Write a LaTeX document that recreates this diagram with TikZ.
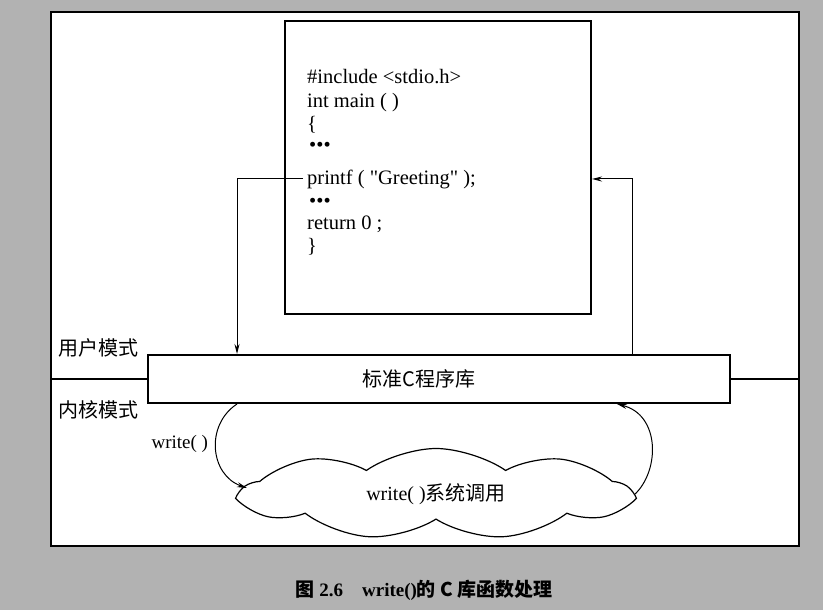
\documentclass[tikz,border=0pt]{standalone}
\usepackage{fontspec}
\setmainfont{Liberation Serif}
\newfontfamily\cjk{Noto Sans CJK SC}
\usetikzlibrary{calc, arrows.meta, shapes.symbols}
\definecolor{scangray}{HTML}{b2b2b2}

\begin{document}
\begin{tikzpicture}[x=1pt, y=-1pt,
            box/.style={draw, line width=2pt, fill=white, inner sep=0pt},
            codeline/.style={anchor=base west, inner sep=0pt, font=\fontsize{20.5}{22}\selectfont},
            modetext/.style={font=\cjk\fontsize{20}{22}\selectfont},
            vec/.style={line width=1pt, -{Stealth[length=10pt, width=5pt]}}
            ]
        % scanned page and frame
        \fill[scangray] (0,0) rectangle (823,610);
        \node[box, anchor=north west, minimum width=748pt, minimum height=534pt] (frame) at (50,11) {};

        % program text
        \node[box, anchor=north west, minimum width=306pt, minimum height=293pt] (code) at (284,20) {};
        \node[codeline] (inc)    at (307,84)  {\#include <stdio.h>};
        \node[codeline] (main)   at (307,108) {int main ( )};
        \node[codeline] (open)   at (307,131) {\{};
        \node[codeline] (dotsa)  at (309,151) {\textbullet\textbullet\textbullet};
        \node[codeline] (printf) at (307,184) {printf ( \textquotedbl Greeting\textquotedbl\ );};
        \node[codeline] (dotsb)  at (309,207) {\textbullet\textbullet\textbullet};
        \node[codeline] (ret)    at (307,229) {return 0 ;};
        \node[codeline] (close)  at (307,252) {\}};

        % library and modes
        \node[box, anchor=north west, minimum width=582pt, minimum height=48pt] (lib) at (147,354) {};
        \node[modetext] (libtext) at ([xshift=-20pt]lib.center) {标准C程序库};
        \draw[line width=1.5pt] (frame.west |- lib.west) -- (lib.west)
                                (lib.east) -- (frame.east |- lib.east);
        \node[modetext] (user)   at (98,348) {用户模式};
        \node[modetext] (kernel) at (98,410) {内核模式};

        % system call
        \node[cloud, draw, line width=1.2pt, fill=white, cloud puffs=9, cloud puff arc=70,
              aspect=4.3, minimum width=388pt, minimum height=91pt, inner sep=0pt,
              font=\fontsize{20}{22}\selectfont] (call) at (436,494) {write( ){\cjk 系统调用}};

        \coordinate (in)  at ([xshift=90pt]lib.north west);
        \coordinate (out) at ([xshift=-99pt]lib.north east);
        \coordinate (down) at ([xshift=90pt]lib.south west);
        \coordinate (up)   at ([xshift=-114pt]lib.south east);

        \draw[vec] ([xshift=-4pt]printf.west) -| (in);
        \draw[vec] (out) |- (code.east |- printf.west);
        \draw[vec] (down) .. controls (205,425) and (210,475) .. ([shift={(10pt,6pt)}]call.west)
              node[pos=0.45, left=4pt, font=\fontsize{19}{22}\selectfont] (wcall) {write( )};
        \draw[vec] (call.east) .. controls (660,470) and (660,415) .. (up);

        \node[font=\bfseries\fontsize{19}{22}\selectfont] (caption) at (424,590)
              {{\cjk 图} 2.6\quad write()\cjk 的 C 库函数处理};
    \end{tikzpicture}
\end{document}
